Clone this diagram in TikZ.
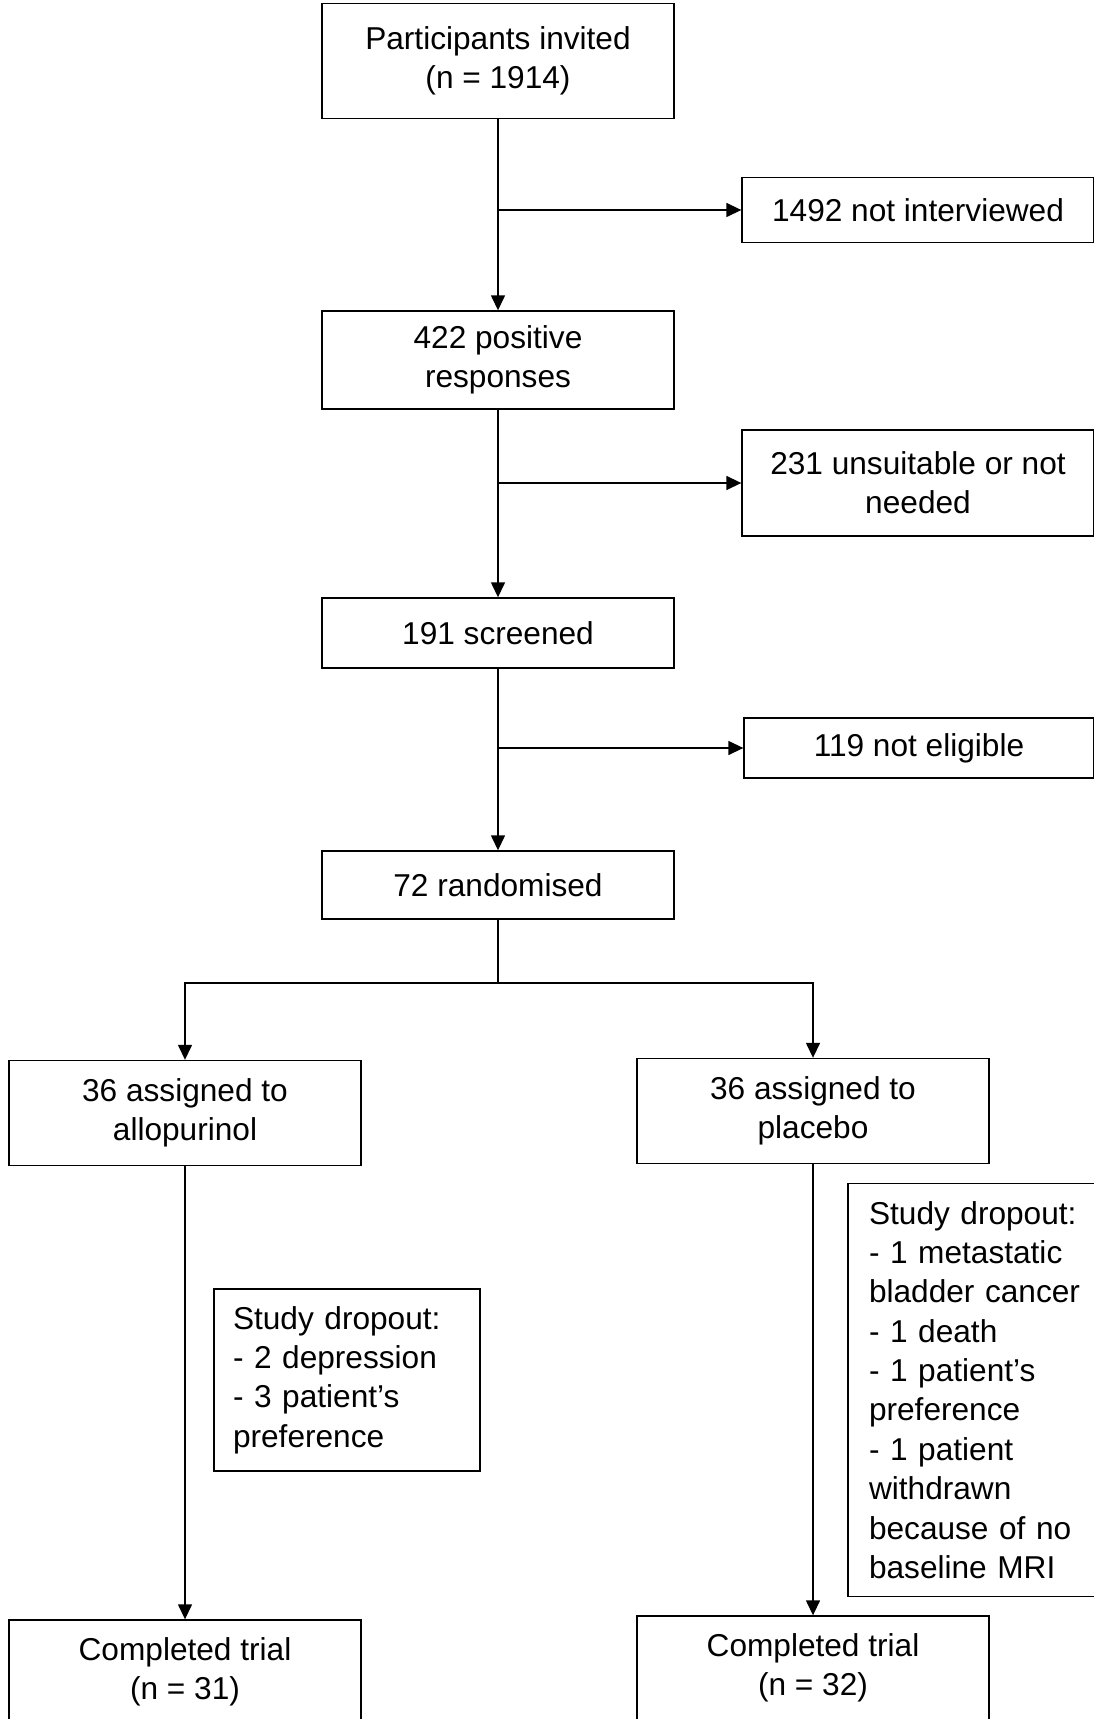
\documentclass[tikz,border=0pt]{standalone}
\usepackage{fontspec}
\setmainfont{Liberation Sans}
\usetikzlibrary{arrows.meta}

\begin{document}
\begin{tikzpicture}[x=0.02cm, y=-0.02cm, line width=0.8pt,
    >={Triangle[length=0.3cm,width=0.28cm]},
    font=\fontsize{18}{22.4}\selectfont]
    \tikzstyle{box}=[draw, minimum width=7.04cm, inner sep=0pt, align=center]
    \tikzstyle{dropbox}=[draw, align=left, inner ysep=0pt]

    \clip (0,0) rectangle (1094,1719);

    \node[box, minimum height=2.3cm] (inv) at (498,61) {Participants invited\\(n = 1914)};
    \node[box, minimum height=1.3cm] (notint) at (918,210) {1492 not interviewed};
    \node[box, minimum height=1.96cm] (pos) at (498,360) {422 positive\\responses};
    \node[box, minimum height=2.12cm] (unsuit) at (918,483) {231 unsuitable or not\\needed};
    \node[box, minimum height=1.4cm] (scr) at (498,633) {191 screened};
    \node[box, minimum height=1.2cm, minimum width=7cm] (notelig) at (919,748) {119 not eligible};
    \node[box, minimum height=1.36cm] (rand) at (498,885) {72 randomised};

    \node[box, minimum height=2.1cm] (allo) at (185,1113) {36 assigned to\\allopurinol};
    \node[box, minimum height=2.1cm] (plac) at (813,1111) {36 assigned to\\placebo};

    \node[dropbox, text width=4.56cm, inner xsep=0.38cm, minimum height=3.64cm] (dropA) at (347,1380)
        {Study dropout:\\- 2 depression\\- 3 patient’s\\preference};
    \node[dropbox, text width=4.6cm, inner xsep=0.42cm, minimum height=8.26cm] (dropB) at (984,1390)
        {Study dropout:\\- 1 metastatic\\bladder cancer\\- 1 death\\- 1 patient’s\\preference\\- 1 patient\\withdrawn\\because of no\\baseline MRI};

    \node[box, minimum height=2.08cm] (compA) at (185,1672) {Completed trial\\(n = 31)};
    \node[box, minimum height=2.08cm] (compB) at (813,1668) {Completed trial\\(n = 32)};

    \coordinate (j1) at (inv.south |- notint.west);
    \coordinate (j2) at (pos.south |- unsuit.west);
    \coordinate (j3) at (scr.south |- notelig.west);
    \coordinate (split) at (498,983);

    \draw[->] (inv) -- (pos);
    \draw[->] (j1) -- (notint);
    \draw[->] (pos) -- (scr);
    \draw[->] (j2) -- (unsuit);
    \draw[->] (scr) -- (rand);
    \draw[->] (j3) -- (notelig);

    \draw (rand) -- (split);
    \draw[->] (split) -| (allo.north);
    \draw[->] (split) -| (plac.north);

    \draw[->] (allo) -- (compA);
    \draw[->] (plac) -- (compB);
  \end{tikzpicture}
\end{document}
